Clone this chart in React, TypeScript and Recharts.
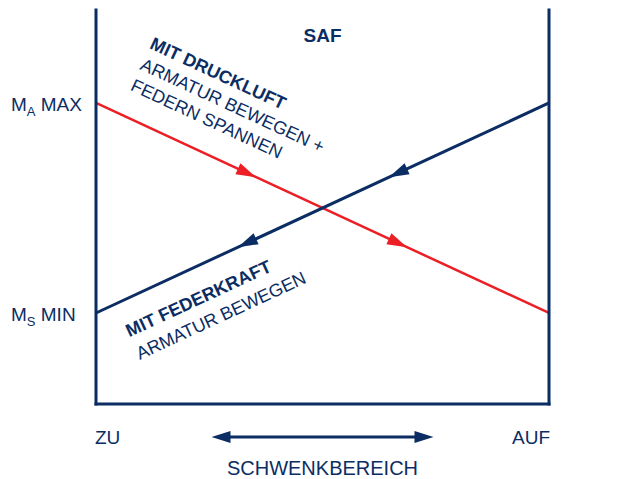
import { LineChart, Line, XAxis, YAxis, Customized } from "recharts";

const NAVY = "#0b2d63";
const RED = "#ec1f26";
const FONT = "'Liberation Sans', Arial, Helvetica, sans-serif";

// Schwenkbereich: 0 = ZU, 100 = AUF
const positions = [0, 100];
const antriebMoment = [76.4, 23.1]; // M_A
const federMoment = [23.1, 76.4]; // M_S

const xTicks = [0, 100];
const xTickLabels = ["ZU", "AUF"];
const momentTicks = [23.1, 76.4];
const leftLabels = [["M", "S", "MIN"], ["M", "A", "MAX"]];
const rightLabels = [["M", "A", "MIN"], ["M", "S", "MAX"]];

const druckluftText = ["MIT DRUCKLUFT", "ARMATUR BEWEGEN +", "FEDERN SPANNEN"];
const federText = ["MIT FEDERKRAFT", "ARMATUR BEWEGEN"];

const data = positions.map((x, i) => ({
  x,
  ma: antriebMoment[i],
  ms: federMoment[i],
}));

const MomentLabel = ({ x, y, parts, anchor }: any) => (
  <text x={x} y={y} fill={NAVY} fontFamily={FONT} fontSize={19} textAnchor={anchor}>
    <tspan>{parts[0]}</tspan>
    <tspan fontSize={13} dy={5}>{parts[1]}</tspan>
    <tspan dy={-5}>{" " + parts[2]}</tspan>
  </text>
);

const LeftTick = (props: any) => {
  const i = momentTicks.indexOf(props.payload.value);
  return <MomentLabel x={props.x - 85} y={props.y + 8.5} parts={leftLabels[i]} anchor="start" />;
};

const RightTick = (props: any) => {
  const i = momentTicks.indexOf(props.payload.value);
  return <MomentLabel x={props.x + 12} y={props.y + 8.5} parts={rightLabels[i]} anchor="start" />;
};

const BottomTick = (props: any) => {
  const i = xTicks.indexOf(props.payload.value);
  return (
    <text
      x={i === 0 ? props.x - 1 : props.x + 1}
      y={props.y + 40}
      fill={NAVY}
      fontFamily={FONT}
      fontSize={19}
      textAnchor={i === 0 ? "start" : "end"}
    >
      {xTickLabels[i]}
    </text>
  );
};

const RangeLabel = (props: any) => {
  const { x, y, width } = props.viewBox;
  const cx = x + width / 2;
  const ay = y + 33;
  const half = 111;
  return (
    <g>
      <line x1={cx - half + 10} y1={ay} x2={cx + half - 10} y2={ay} stroke={NAVY} strokeWidth={3} />
      <polygon points={`${cx - half},${ay} ${cx - half + 19},${ay - 6} ${cx - half + 19},${ay + 6}`} fill={NAVY} />
      <polygon points={`${cx + half},${ay} ${cx + half - 19},${ay - 6} ${cx + half - 19},${ay + 6}`} fill={NAVY} />
      <text x={cx} y={y + 71} fill={NAVY} fontFamily={FONT} fontSize={20} textAnchor="middle">
        SCHWENKBEREICH
      </text>
    </g>
  );
};

// arrows along the line plus the rotated note, drawn once from the first point
const makeDot =
  (color: string, reverse: boolean, lines: string[], ox: number, oy: number, lh: number) =>
  (props: any) => {
    const { index, points } = props;
    if (index !== 0 || !points || points.length < 2) return <g key={`dot-${index}`} />;
    const p0 = points[0];
    const p1 = points[points.length - 1];
    const ang = (Math.atan2(p1.y - p0.y, p1.x - p0.x) * 180) / Math.PI;
    return (
      <g key={`dot-${index}`}>
        {[1 / 3, 2 / 3].map((f) => (
          <polygon
            key={f}
            points="10,0 -10,-6 -10,6"
            fill={color}
            transform={`translate(${p0.x + (p1.x - p0.x) * f},${p0.y + (p1.y - p0.y) * f}) rotate(${reverse ? ang + 180 : ang})`}
          />
        ))}
        <g transform={`translate(${p0.x},${p0.y}) rotate(${ang})`}>
          {lines.map((t, i) => (
            <text
              key={t}
              x={ox}
              y={oy + i * lh}
              fill={NAVY}
              fontFamily={FONT}
              fontSize={18}
              fontWeight={i === 0 ? "bold" : "normal"}
            >
              {t}
            </text>
          ))}
        </g>
      </g>
    );
  };

const Title = () => (
  <text x={322.5} y={41.5} fill={NAVY} fontFamily={FONT} fontSize={19} fontWeight="bold" textAnchor="middle">
    SAF
  </text>
);

export default function App() {
  const axisLine = { stroke: NAVY, strokeWidth: 3, strokeLinecap: "square" as const };
  return (
    <div style={{ position: "absolute", left: 0, top: 0 }}>
      <LineChart width={636} height={479} data={data} margin={{ top: 10, right: 0, bottom: 0, left: 0 }}>
        <XAxis
          type="number"
          dataKey="x"
          domain={[0, 100]}
          ticks={xTicks}
          interval={0}
          height={75}
          axisLine={axisLine}
          tickLine={false}
          tickSize={0}
          tickMargin={0}
          tick={BottomTick}
          label={{ content: RangeLabel }}
        />
        <YAxis
          yAxisId="left"
          orientation="left"
          type="number"
          domain={[0, 100]}
          ticks={momentTicks}
          interval={0}
          width={96}
          axisLine={axisLine}
          tickLine={false}
          tickSize={0}
          tickMargin={0}
          tick={LeftTick}
        />
        <YAxis
          yAxisId="right"
          orientation="right"
          type="number"
          domain={[0, 100]}
          ticks={momentTicks}
          interval={0}
          width={87}
          axisLine={axisLine}
          tickLine={false}
          tickSize={0}
          tickMargin={0}
          tick={RightTick}
        />
        <Line
          yAxisId="left"
          dataKey="ma"
          stroke={RED}
          strokeWidth={2.5}
          isAnimationActive={false}
          dot={makeDot(RED, false, druckluftText, 24.8, -72, 23)}
          activeDot={false}
        />
        <Line
          yAxisId="left"
          dataKey="ms"
          stroke={NAVY}
          strokeWidth={3}
          isAnimationActive={false}
          dot={makeDot(NAVY, true, federText, 20, 36, 25)}
          activeDot={false}
        />
        <Customized component={Title} />
      </LineChart>
    </div>
  );
}
